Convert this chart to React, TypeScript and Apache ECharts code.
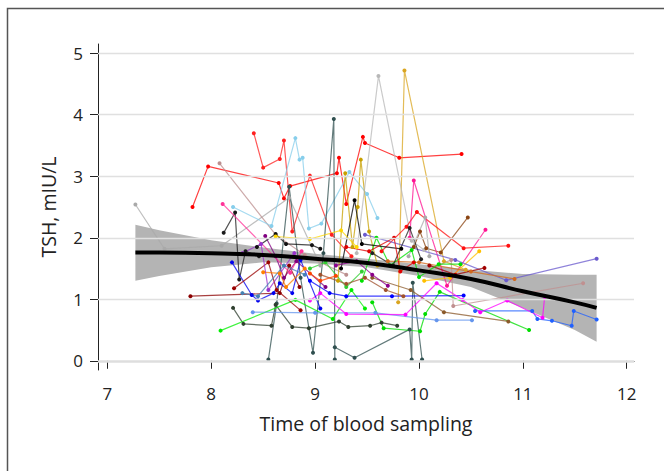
import React, { useEffect, useRef } from 'react';
import * as echarts from 'echarts';

type Pt = [number, number];

const xTicks = [7, 8, 9, 10, 11, 12];
const yTicks = [0, 1, 2, 3, 4, 5];

const fitX = [7.27, 7.5, 8.0, 8.5, 9.0, 9.5, 10.0, 10.5, 11.0, 11.5, 11.71];
const fitY = [1.76, 1.76, 1.75, 1.72, 1.66, 1.59, 1.47, 1.33, 1.13, 0.95, 0.86];
const ciUpper = [2.21, 2.12, 1.96, 1.84, 1.74, 1.66, 1.57, 1.48, 1.41, 1.4, 1.4];
const ciLower = [1.3, 1.38, 1.52, 1.6, 1.58, 1.52, 1.38, 1.2, 0.86, 0.5, 0.31];

const grayLeft: Pt[] = [[7.27, 2.54], [7.55, 1.82], [8.1, 1.87], [8.75, 2.65], [9.05, 1.55]];
const redLong: Pt[] = [[7.82, 2.5], [7.97, 3.16], [8.65, 2.89], [8.7, 2.64], [8.76, 2.84], [9.21, 3.05], [9.23, 3.3], [9.3, 2.55], [9.46, 3.64], [9.48, 3.54], [9.81, 3.3], [10.41, 3.36]];
const redTop: Pt[] = [[8.41, 3.7], [8.5, 3.14], [8.66, 3.28], [8.7, 3.58], [8.78, 2.1], [8.95, 3.01], [9.16, 2.05], [9.35, 1.7]];
const rosyBrown: Pt[] = [[8.08, 3.21], [8.62, 2.05], [8.9, 1.72], [9.3, 1.4]];
const skyBlue: Pt[] = [[8.21, 2.5], [8.58, 2.19], [8.81, 3.62], [8.85, 3.27], [8.88, 3.3], [8.94, 2.15], [9.06, 2.23], [9.33, 3.07], [9.5, 2.71], [9.6, 2.32]];
const slateA: Pt[] = [[8.55, 0.02], [8.63, 0.93], [8.75, 2.83], [8.86, 1.35], [8.98, 0.13], [9.08, 1.75], [9.18, 3.93], [9.19, 0.02]];
const slateB: Pt[] = [[9.19, 0.22], [9.38, 0.05], [9.91, 0.51], [9.93, 0.02], [9.94, 1.27], [10.03, 0.02]];
const oliveLow: Pt[] = [[8.21, 0.86], [8.31, 0.6], [8.58, 0.57], [8.62, 0.91], [8.78, 0.55], [8.94, 0.53], [9.23, 0.64], [9.32, 0.55], [9.53, 0.57], [9.64, 0.62], [9.79, 0.57]];
const goldTall: Pt[] = [[9.8, 0.95], [9.86, 4.72], [10.24, 1.62], [10.45, 1.48]];
const goldSmall: Pt[] = [[9.22, 1.3], [9.29, 3.05], [9.36, 1.85], [9.41, 2.5], [9.44, 3.27], [9.52, 2.1], [9.6, 1.55]];
const graySpike: Pt[] = [[9.4, 1.75], [9.61, 4.63], [9.93, 1.95], [10.05, 1.8]];
const blackLeft: Pt[] = [[8.12, 2.08], [8.23, 2.41], [8.27, 1.32], [8.33, 1.78], [8.46, 1.7]];
const greenA: Pt[] = [[8.09, 0.49], [8.81, 0.99], [9.17, 0.68], [9.35, 1.15], [9.48, 0.85]];
const greenB: Pt[] = [[9.55, 0.95], [9.66, 0.53], [10.01, 0.48], [10.06, 0.76], [10.2, 1.12], [11.06, 0.5]];
const cornflower: Pt[] = [[8.4, 0.79], [9.0, 0.78], [9.58, 0.78], [10.17, 0.66], [10.51, 0.66]];
const blueRight: Pt[] = [[10.54, 0.81], [11.09, 0.81], [11.14, 0.68], [11.28, 0.65], [11.47, 0.57], [11.49, 0.81], [11.71, 0.67]];
const blueMid: Pt[] = [[8.95, 1.3], [9.14, 1.1], [9.3, 1.05], [9.74, 1.05], [10.43, 1.06]];
const magenta: Pt[] = [[8.95, 0.98], [9.05, 1.1], [9.3, 0.76], [9.87, 0.75], [10.17, 1.26], [10.42, 0.99], [10.59, 0.79], [10.85, 0.98], [11.19, 0.7], [11.21, 1.04]];
const sienna: Pt[] = [[9.95, 1.85], [10.01, 2.1], [10.07, 1.83], [10.21, 1.76], [10.47, 2.33]];
const rosyRight: Pt[] = [[10.05, 1.45], [10.31, 1.64], [10.33, 0.89], [11.58, 1.26]];
const brownLow: Pt[] = [[9.55, 1.35], [9.92, 1.15], [10.24, 0.79], [10.86, 0.64]];
const darkRedLeft: Pt[] = [[7.8, 1.05], [8.66, 1.1], [8.75, 1.55], [8.85, 1.2]];
const redRight: Pt[] = [[9.64, 1.78], [9.88, 2.18], [9.98, 2.42], [10.43, 1.83], [10.86, 1.87]];
const deepPink: Pt[] = [[9.91, 2.0], [9.95, 2.93], [10.27, 1.22], [10.64, 2.13]];
const goldRight: Pt[] = [[10.05, 1.3], [10.3, 1.35], [10.58, 1.78]];
const slateBlue: Pt[] = [[9.48, 2.05], [10.35, 1.64], [10.84, 1.31], [11.71, 1.66]];
const chocolate: Pt[] = [[9.7, 1.62], [10.0, 1.6], [10.5, 1.45], [10.92, 1.33]];
const darkRedRight: Pt[] = [[10.1, 1.55], [10.35, 1.4], [10.63, 1.51]];
const greenUpper: Pt[] = [[9.45, 1.3], [9.59, 2.0], [9.72, 1.55], [9.93, 1.8], [10.0, 1.36], [10.19, 1.57], [10.4, 1.57]];
const blueLeft: Pt[] = [[8.2, 1.6], [8.39, 1.07], [8.45, 0.98], [8.6, 1.1], [8.66, 1.26], [8.78, 1.1], [8.86, 1.64], [9.05, 0.85]];
const purple: Pt[] = [[8.52, 2.03], [8.62, 1.7], [8.7, 1.35], [8.82, 1.62], [9.1, 1.2]];
const hotPink: Pt[] = [[8.11, 2.55], [8.76, 1.43], [8.87, 1.78]];
const black2: Pt[] = [[8.44, 1.85], [8.62, 2.06], [8.72, 1.9], [8.97, 1.88], [9.05, 1.82]];
const darkRed2: Pt[] = [[8.22, 1.18], [8.55, 1.6], [8.63, 1.15], [8.86, 0.82]];
const orange: Pt[] = [[8.5, 1.44], [8.66, 1.42], [8.72, 1.2], [8.9, 1.5]];
const black3: Pt[] = [[9.25, 1.5], [9.38, 2.61], [9.45, 1.9], [9.83, 1.82]];
const black4: Pt[] = [[9.55, 1.75], [9.75, 1.55], [9.91, 2.16], [10.02, 1.65]];
const lime: Pt[] = [[8.95, 1.5], [9.1, 1.6], [9.3, 1.2], [9.45, 1.45]];
const darkOrchid: Pt[] = [[8.3, 1.75], [8.48, 1.9], [8.55, 1.15], [8.8, 1.75]];
const steelBlue: Pt[] = [[8.3, 1.1], [8.45, 1.05], [8.7, 1.55], [8.9, 1.4]];
const yellow: Pt[] = [[8.62, 2.02], [8.95, 1.98], [9.25, 2.12], [9.4, 1.85]];
const red4: Pt[] = [[9.3, 1.85], [9.52, 1.78], [9.76, 2.0], [9.82, 1.45], [9.95, 1.6]];
const gray2: Pt[] = [[9.9, 1.7], [10.06, 2.33], [10.1, 1.7]];
const sienna2: Pt[] = [[9.05, 1.4], [9.3, 1.25], [9.48, 1.35], [9.68, 1.15], [9.85, 1.05]];
const darkMagenta: Pt[] = [[9.2, 1.55], [9.4, 1.62], [9.55, 1.4], [9.7, 1.22]];
const orangeRed: Pt[] = [[8.95, 1.42], [9.05, 1.3], [9.2, 1.38]];

const subjects: { color: string; points: Pt[] }[] = [
  { color: '#a9a9a9', points: grayLeft },
  { color: '#ff0000', points: redLong },
  { color: '#ff2020', points: redTop },
  { color: '#bc8f8f', points: rosyBrown },
  { color: '#87ceeb', points: skyBlue },
  { color: '#2f4f4f', points: slateA },
  { color: '#2f4f4f', points: slateB },
  { color: '#2f3f2f', points: oliveLow },
  { color: '#daa520', points: goldTall },
  { color: '#c8a000', points: goldSmall },
  { color: '#b8b8b8', points: graySpike },
  { color: '#1a1a1a', points: blackLeft },
  { color: '#00ee00', points: greenA },
  { color: '#00dd00', points: greenB },
  { color: '#6495ed', points: cornflower },
  { color: '#2060ff', points: blueRight },
  { color: '#0000ff', points: blueMid },
  { color: '#ff00ff', points: magenta },
  { color: '#8b4513', points: sienna },
  { color: '#c09090', points: rosyRight },
  { color: '#8b5a2b', points: brownLow },
  { color: '#8b0000', points: darkRedLeft },
  { color: '#ff1010', points: redRight },
  { color: '#ff1493', points: deepPink },
  { color: '#ffc000', points: goldRight },
  { color: '#6a5acd', points: slateBlue },
  { color: '#d2691e', points: chocolate },
  { color: '#a00000', points: darkRedRight },
  { color: '#00e000', points: greenUpper },
  { color: '#0000ee', points: blueLeft },
  { color: '#800080', points: purple },
  { color: '#ff3399', points: hotPink },
  { color: '#111111', points: black2 },
  { color: '#990000', points: darkRed2 },
  { color: '#ff7f00', points: orange },
  { color: '#000000', points: black3 },
  { color: '#222222', points: black4 },
  { color: '#32cd32', points: lime },
  { color: '#9932cc', points: darkOrchid },
  { color: '#4682b4', points: steelBlue },
  { color: '#ffd700', points: yellow },
  { color: '#e00000', points: red4 },
  { color: '#aaaaaa', points: gray2 },
  { color: '#a0522d', points: sienna2 },
  { color: '#8b008b', points: darkMagenta },
  { color: '#ff4500', points: orangeRed },
];

const FONT = 'Open Sans';

export default function App() {
  const ref = useRef<HTMLDivElement>(null);
  useEffect(() => {
    if (!ref.current) return;
    const chart = echarts.init(ref.current, undefined, { renderer: 'svg' });
    const subjectSeries = subjects.map((s) => ({
      type: 'line',
      data: s.points,
      symbol: 'circle',
      symbolSize: 4,
      itemStyle: { color: s.color },
      lineStyle: { color: s.color, width: 1.2, opacity: 0.75 },
      z: 3,
      silent: true,
    }));
    chart.setOption({
      animation: false,
      grid: { left: 98, right: 30, top: 44, bottom: 101, containLabel: false },
      graphic: [
        {
          type: 'rect',
          shape: { x: 7.5, y: 8.5, width: 800, height: 600 },
          style: { fill: 'none', stroke: '#555', lineWidth: 1.5 },
          silent: true,
        },
      ],
      xAxis: {
        type: 'value',
        min: 6.91,
        max: 12.07,
        name: 'Time of blood sampling',
        nameLocation: 'middle',
        nameGap: 43,
        nameTextStyle: { fontFamily: FONT, fontSize: 19.5, color: '#222' },
        axisLine: { show: true, lineStyle: { color: '#222', width: 1 } },
        axisTick: { show: true, customValues: xTicks, length: 8, lineStyle: { color: '#222' } },
        axisLabel: { customValues: xTicks, fontFamily: FONT, fontSize: 17, color: '#222', margin: 15 },
        splitLine: { show: false },
      },
      yAxis: {
        type: 'value',
        min: -0.15,
        max: 5.15,
        name: 'TSH, mIU/L',
        nameLocation: 'middle',
        nameGap: 40,
        nameTextStyle: { fontFamily: FONT, fontSize: 19.5, color: '#222' },
        axisLine: { show: true, lineStyle: { color: '#222', width: 1 } },
        axisTick: { show: true, customValues: yTicks, length: 8, lineStyle: { color: '#222' } },
        axisLabel: { customValues: yTicks, fontFamily: FONT, fontSize: 17, color: '#222', margin: 15 },
        splitLine: { show: false },
      },
      series: [
        {
          type: 'line',
          data: [],
          symbol: 'none',
          z: 1,
          silent: true,
          markLine: {
            silent: true,
            symbol: ['none', 'none'],
            label: { show: false },
            data: yTicks.map((v) => ({
              yAxis: v,
              lineStyle: { color: v === 0 ? '#dedede' : '#e0e0e0', width: v === 0 ? 2.5 : 1.3, type: 'solid' },
            })),
          },
        },
        {
          type: 'custom',
          data: [[fitX[0], fitY[0]]],
          encode: { x: 0, y: 1 },
          z: 2,
          silent: true,
          clip: false,
          renderItem: (_params: any, api: any) => {
            const upperPts = fitX.map((x, i) => api.coord([x, ciUpper[i]]));
            const lowerPts = fitX.map((x, i) => api.coord([x, ciLower[i]])).reverse();
            return {
              type: 'polygon',
              shape: { points: upperPts.concat(lowerPts) },
              style: { fill: '#b4b4b4' },
            };
          },
        },
        ...subjectSeries,
        {
          type: 'line',
          data: fitX.map((x, i) => [x, fitY[i]]),
          smooth: true,
          symbol: 'none',
          lineStyle: { color: '#000', width: 4 },
          z: 5,
          silent: true,
        },
      ],
    });
    return () => chart.dispose();
  }, []);
  return (
    <div
      ref={ref}
      style={{ position: 'fixed', left: 0, top: 0, width: 664, height: 471, background: '#fff' }}
    />
  );
}
